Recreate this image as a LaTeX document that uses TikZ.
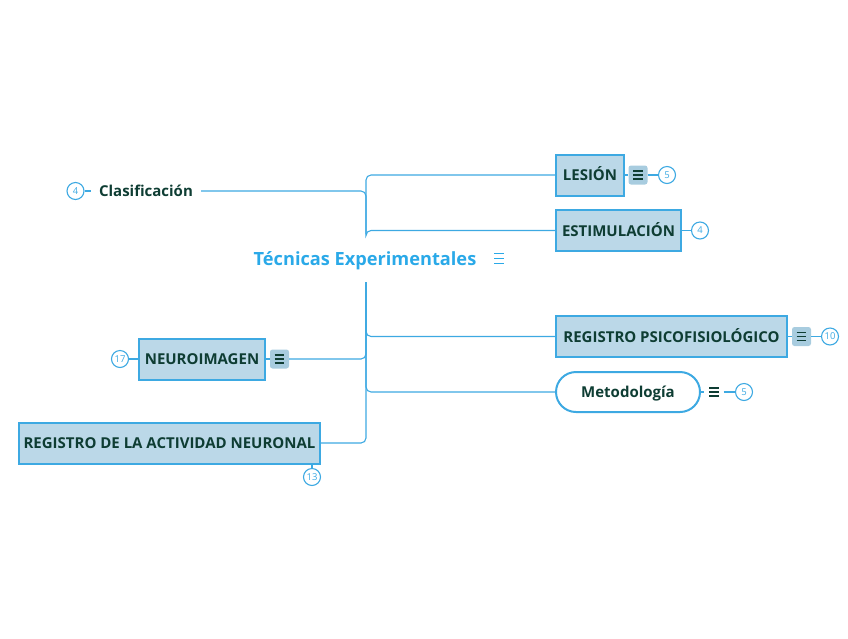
\documentclass[tikz,border=0pt]{standalone}
\usepackage{fontspec}
\setmainfont{Open Sans}
\usetikzlibrary{calc}
\definecolor{lb}{HTML}{3DA9E2}
\definecolor{boxf}{HTML}{BBD8E8}
\definecolor{hbf}{HTML}{A8CCDF}
\definecolor{txt}{HTML}{0E3D33}
\definecolor{titlec}{HTML}{2AA9E8}
\tikzset{hbc/.store in=\hbcolor, hbc=txt, hbs/.store in=\hbsp, hbs=4}
\begin{document}
\begin{tikzpicture}[x=1pt,y=-1pt,
  conn/.style={draw=lb, line width=1.1pt, rounded corners=5pt},
  topic/.style={draw=lb, line width=2pt, fill=boxf, font=\bfseries\fontsize{15}{18}\selectfont, text=txt, minimum height=41pt, inner sep=0pt, text height=11pt, text depth=0pt},
  subt/.style={draw=lb, line width=2pt, fill=white, font=\bfseries\fontsize{15}{18}\selectfont, text=txt, minimum height=40pt, inner sep=0pt, rounded corners=20pt, text height=11pt, text depth=0pt},
  plaintopic/.style={font=\bfseries\fontsize{15}{18}\selectfont, text=txt, inner xsep=8pt, inner ysep=2pt, text height=11pt, text depth=0pt},
  titlenode/.style={font=\bfseries\fontsize{18.2}{22}\selectfont, text=titlec, inner sep=2pt, text height=13pt, text depth=0pt},
  hbicon/.style={rectangle, minimum width=19pt, minimum height=19pt, inner sep=0pt,
    path picture={\foreach \k in {-1,0,1}{\draw[\hbcolor, line width=1.2pt] ($(path picture bounding box.center)+(-4.8,\k*\hbsp)$) -- ++(9.6,0);}}},
  hb/.style={hbicon, rounded corners=2.5pt, fill=hbf},
  cnt/.style={circle, draw=lb, line width=1.1pt, minimum size=17pt, inner sep=0pt, font=\fontsize{9.5}{10}\selectfont, text=lb},
]
\useasboundingbox (0,0) rectangle (848,638);

% root
\node[titlenode] (root) at (365,258.5) {Técnicas Experimentales};
\node[hbicon, hbc=titlec, hbs=5] (roothb) at (499,258.5) {};

% right side
\node[topic, minimum width=68pt] (lesion) at (590,175) {LESIÓN};
\node[hb] (lesionhb) at (638,175) {};
\node[cnt] (lesionc) at (667,175) {5};

\node[topic, minimum width=125pt] (estim) at (618.5,230.5) {ESTIMULACIÓN};
\node[cnt] (estimc) at (700,230.5) {4};

\node[topic, minimum width=231pt] (psico) at (671.5,336.5) {REGISTRO PSICOFISIOLÓGICO};
\node[hb] (psicohb) at (801.5,336.5) {};
\node[cnt] (psicoc) at (830,336.5) {10};

\node[subt, minimum width=144pt] (metod) at (628,392) {Metodología};
\node[hbicon] (metodhb) at (714,392) {};
\node[cnt] (metodc) at (744,392) {5};

% left side
\node[plaintopic] (clas) at (146,191) {Clasificación};
\node[cnt] (clasc) at (75.5,191) {4};

\node[topic, minimum width=126pt] (neuro) at (202,359) {NEUROIMAGEN};
\node[hb] (neurohb) at (279.5,359) {};
\node[cnt] (neuroc) at (120,359) {17};

\node[topic, minimum width=301pt] (neural) at (169.5,443) {REGISTRO DE LA ACTIVIDAD NEURONAL};
\node[cnt] (neuralc) at (312,477) {13};

% trunk ends
\coordinate (tA) at (366,234);
\coordinate (tB) at (366,282);

\draw[conn] (lesion.west) -| (tA);
\draw[conn] (estim.west) -| (tA);
\draw[conn] (clas.east) -| (tA);
\draw[conn] (psico.west) -| (tB);
\draw[conn] (metod.west) -| (tB);
\draw[conn] (neurohb.east) -| (tB);
\draw[conn] (neural.east) -| (tB);

% small connectors
\draw[conn] (lesion.east) -- (lesionhb.west);
\draw[conn] (lesionhb.east) -- (lesionc.west);
\draw[conn] (estim.east) -- (estimc.west);
\draw[conn] (psico.east) -- (psicohb.west);
\draw[conn] (psicohb.east) -- (psicoc.west);
\draw[conn] (metod.east) -- (metodhb.west);
\draw[conn] (metodhb.east) -- (metodc.west);
\draw[conn] (clasc.east) -- (clas.west);
\draw[conn] (neuroc.east) -- (neuro.west);
\draw[conn] (neuro.east) -- (neurohb.west);
\draw[conn] (neuralc.north |- neural.south) -- (neuralc.north);
\end{tikzpicture}
\end{document}
